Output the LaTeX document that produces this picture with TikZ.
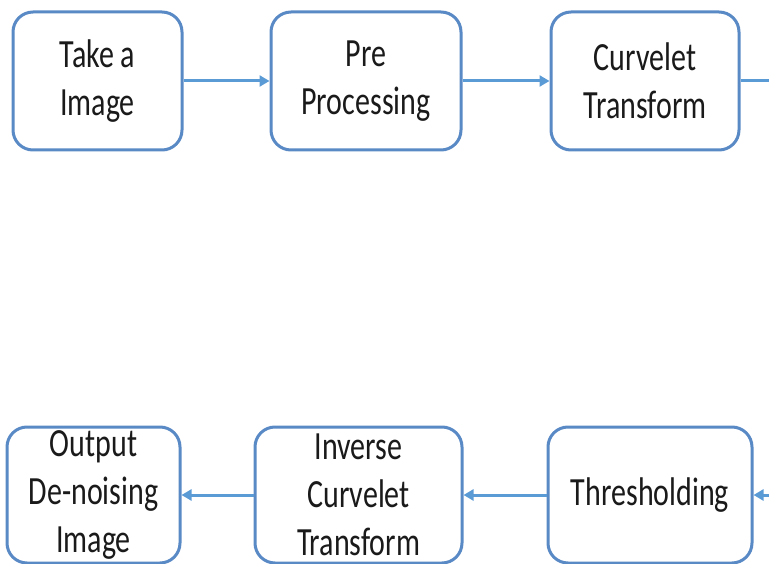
\documentclass[tikz,border=0pt]{standalone}
\usepackage{fontspec}
\setmainfont[FakeStretch=0.75]{Carlito}
\usepackage{xcolor}
\usetikzlibrary{arrows.meta,positioning}
\definecolor{FlowBlue}{HTML}{5A8AC6}
\definecolor{FlowArrow}{HTML}{5B9BD5}
\definecolor{FlowText}{HTML}{1A1A1A}

\begin{document}
\begin{tikzpicture}[x=1pt,y=1pt,
  stage/.style={draw=FlowBlue,rounded corners=20pt,fill=white,line width=3pt,align=center,inner sep=0pt,minimum height=138pt,text=FlowText,font=\fontsize{40}{48}\selectfont},
  flow/.style={-{Triangle[length=10pt,width=11pt]},draw=FlowArrow,line width=3pt}
]
\useasboundingbox (0,0) rectangle (769,-564);
\node[stage,minimum width=169pt] (take) at (97.5,-81) {Take a\\Image};
\node[stage,minimum width=190pt,right=86pt of take] (pre) {Pre\\Processing};
\node[stage,minimum width=188pt,right=87pt of pre] (curv) {Curvelet\\Transform};
\node[stage,minimum width=204pt,minimum height=136pt] (thresh) at (650,-495) {Thresholding};
\node[stage,minimum width=207pt,minimum height=136pt,left=83pt of thresh] (invcurv) {Inverse\\Curvelet\\Transform};
\node[stage,minimum width=173pt,minimum height=136pt,left=72pt of invcurv] (output) {Output\\De-noising\\Image};
\coordinate (outR) at (769,-81);
\coordinate (inR) at (769,-495);
\draw[flow] (take) -- (pre);
\draw[flow] (pre) -- (curv);
\draw[draw=FlowArrow,line width=3pt] (curv) -- (outR);
\draw[flow] (inR) -- (thresh);
\draw[flow] (thresh) -- (invcurv);
\draw[flow] (invcurv) -- (output);
\end{tikzpicture}
\end{document}
